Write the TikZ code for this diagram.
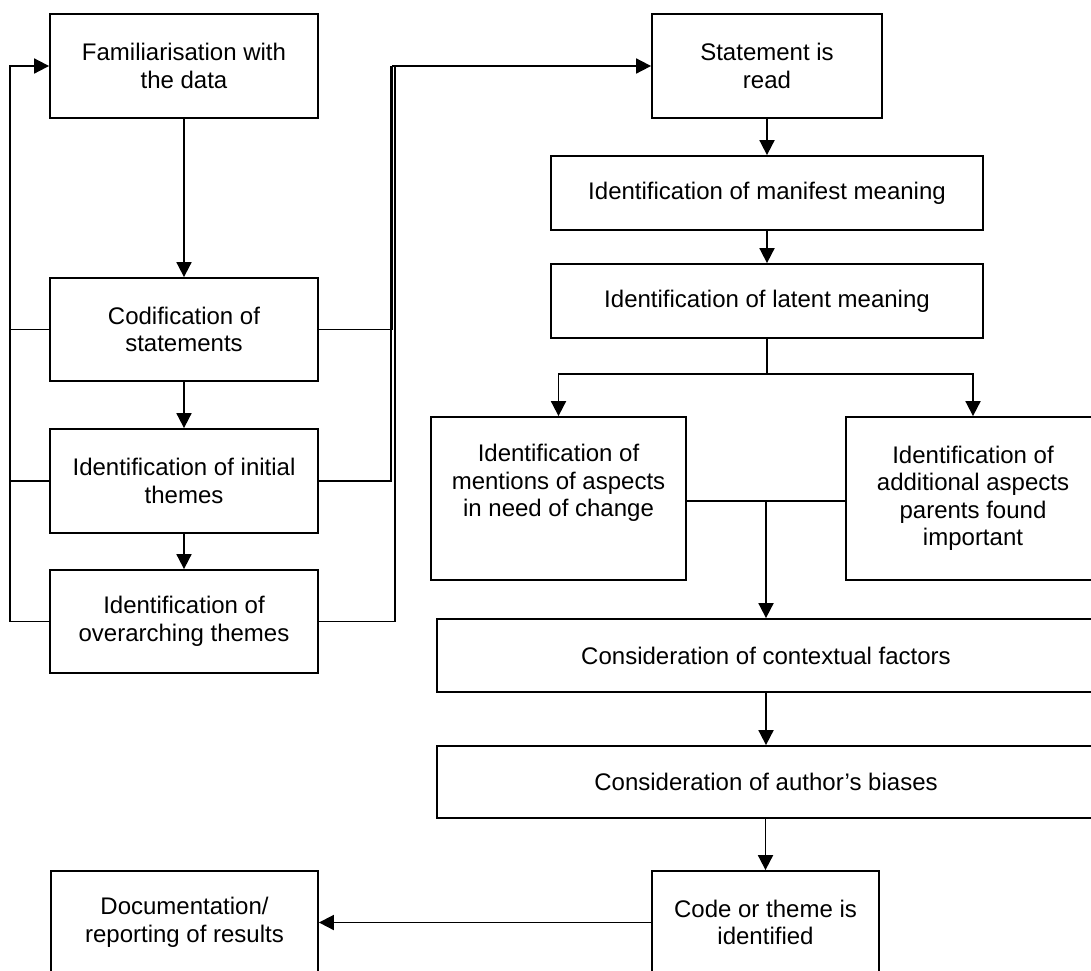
\documentclass[tikz,border=0pt]{standalone}
\usepackage{fontspec}
\setmainfont{Liberation Sans}
\usetikzlibrary{arrows.meta}
\begin{document}
\begin{tikzpicture}[x=1pt,y=-1pt,
  stepbox/.style={draw=black, line width=1.8pt, rectangle, align=center,
    inner sep=0pt, font=\fontsize{24}{27.5}\selectfont},
  link/.style={draw=black, line width=1.8pt},
  flow/.style={link, -{Triangle[length=15pt,width=15pt]}}]
\useasboundingbox (0,0) rectangle (1091,970);
\clip (0,0) rectangle (1091,970);

% left column
\node[stepbox, minimum width=268pt, minimum height=104pt] (fam) at (184,66) {Familiarisation with\\the data};
\node[stepbox, minimum width=268pt, minimum height=103pt] (cod) at (184,329.5) {Codification of\\statements};
\node[stepbox, minimum width=268pt, minimum height=104pt] (ini) at (184,481) {Identification of initial\\themes};
\node[stepbox, minimum width=268pt, minimum height=103pt] (ove) at (184,621.5) {Identification of\\overarching themes};

% right column
\node[stepbox, minimum width=230pt, minimum height=104pt] (stm) at (767,66) {Statement is\\read};
\node[stepbox, minimum width=432pt, minimum height=74pt] (man) at (767,193) {Identification of manifest meaning};
\node[stepbox, minimum width=432pt, minimum height=74pt] (lat) at (767,301) {Identification of latent meaning};
\node[stepbox, minimum width=255pt, minimum height=163pt] (men) at (558.5,498.5) {Identification of\\mentions of aspects\\in need of change\\\strut};
\node[stepbox, minimum width=254pt, minimum height=163pt] (add) at (973,498.5) {Identification of\\additional aspects\\parents found\\important};
\node[stepbox, minimum width=658pt, minimum height=73pt] (ctx) at (766,655.5) {Consideration of contextual factors};
\node[stepbox, minimum width=658pt, minimum height=72pt] (bia) at (766,782) {Consideration of author’s biases};
\node[stepbox, minimum width=227pt, minimum height=103pt] (res) at (765.5,922.5) {Code or theme is\\identified};
\node[stepbox, minimum width=267pt, minimum height=103pt] (doc) at (184.5,922.5) {Documentation/\\reporting of results};

% left column flow
\draw[flow] (fam) -- (cod);
\draw[flow] (cod) -- (ini);
\draw[flow] (ini) -- (ove);

% feedback loop on the left
\coordinate (lx) at (10,0);
\draw[flow] (ove.west) -- (ove.west -| lx) |- (fam.west);
\draw[link] (cod.west) -- (cod.west -| lx);
\draw[link] (ini.west) -- (ini.west -| lx);

% links across to the statement analysis
\coordinate (r1) at (392.5,66);
\coordinate (r2) at (391,66);
\coordinate (r3) at (395,66);
\draw[flow] (cod.east) -| (r1) -- (stm.west);
\draw[link] (ini.east) -| (r2);
\draw[link] (ove.east) -| (r3);

% statement analysis
\draw[flow] (stm) -- (man);
\draw[flow] (man) -- (lat);
\coordinate (split) at (767,374);
\draw[link] (lat.south) -- (split);
\draw[flow] (split) -| (men.north);
\draw[flow] (split) -| (add.north);

\coordinate (join) at (766,501);
\draw[link] (men.east |- join) -- (add.west |- join);
\draw[flow] (join) -- (ctx.north -| join);
\draw[flow] (ctx) -- (bia);
\draw[flow] (bia.south -| res.north) -- (res.north);
\draw[flow] (res.west) -- (doc.east);
\end{tikzpicture}
\end{document}
